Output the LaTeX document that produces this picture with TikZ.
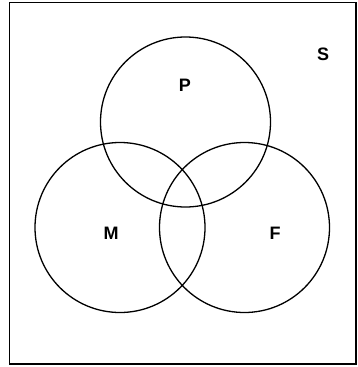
\documentclass[tikz,border=0pt]{standalone}
\usepackage{fontspec}
\setmainfont{Liberation Sans}
\begin{document}
\begin{tikzpicture}[x=1pt,y=-1pt,
  setcircle/.style={circle,draw=black,line width=1.3pt,minimum size=170pt,inner sep=0pt,outer sep=0pt},
  setlabel/.style={font=\bfseries\fontsize{18}{20}\selectfont,inner sep=0pt}]
\useasboundingbox (0,0) rectangle (358,367);
\draw[line width=1.6pt] (9.5,2.5) rectangle (356,364);
\node[setcircle] (Pc) at (185.5,122) {};
\node[setcircle] (Mc) at (120,227.5) {};
\node[setcircle] (Fc) at (244.5,227.5) {};
\node[setlabel] (P) at (185,85) {P};
\node[setlabel] (M) at (111,233) {M};
\node[setlabel] (F) at (275,233) {F};
\node[setlabel] (S) at (323,54.5) {S};
\end{tikzpicture}
\end{document}
